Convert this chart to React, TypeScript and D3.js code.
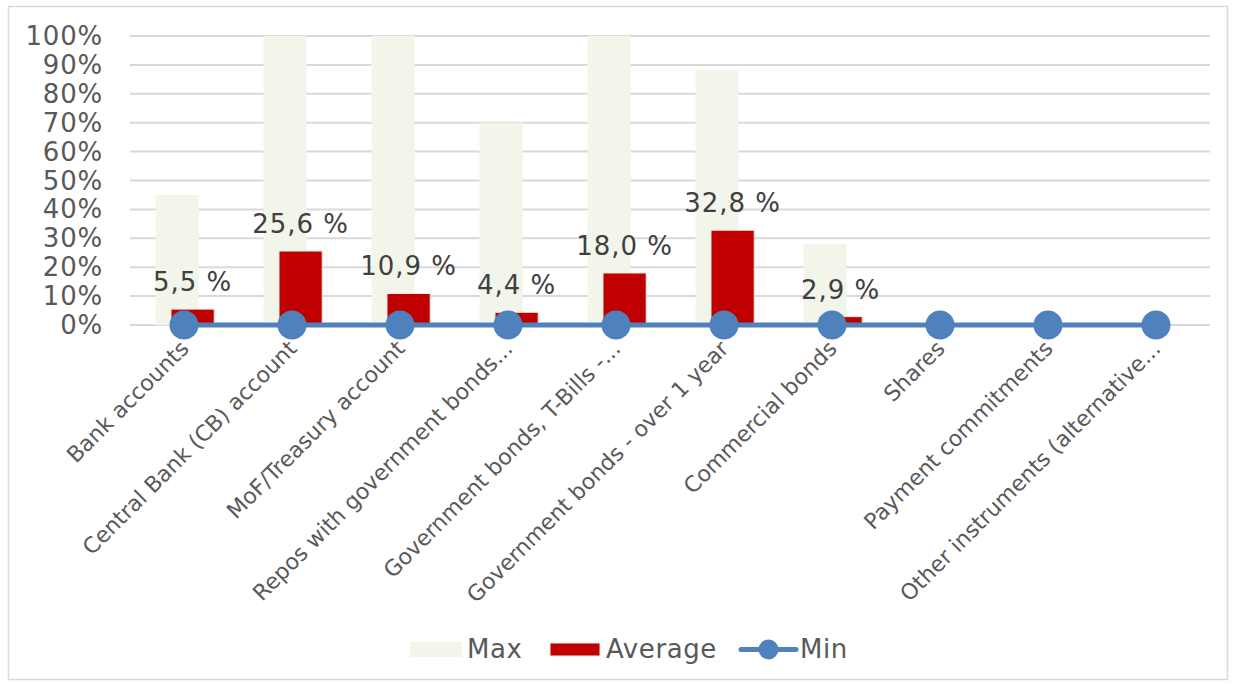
import React from "react";
import * as d3 from "d3";

const categories = [
  "Bank accounts",
  "Central Bank (CB) account",
  "MoF/Treasury account",
  "Repos with government bonds...",
  "Government bonds, T-Bills -...",
  "Government bonds - over 1 year",
  "Commercial bonds",
  "Shares",
  "Payment commitments",
  "Other instruments (alternative...",
];
const maxValues = [45, 100, 100, 70, 100, 88, 28, 0, 0, 0];
const avgValues = [5.5, 25.6, 10.9, 4.4, 18.0, 32.8, 2.9, 0, 0, 0];
const minValues = [0, 0, 0, 0, 0, 0, 0, 0, 0, 0];
const yTicks = [0, 10, 20, 30, 40, 50, 60, 70, 80, 90, 100];

const W = 1237;
const H = 684;
const FONT = "'DejaVu Sans', Verdana, sans-serif";

export default function App() {
  const x = d3.scaleBand<string>().domain(categories).range([130, 1210]).padding(0);
  const y = d3.scaleLinear().domain([0, 100]).range([325, 36]);
  const bw = x.bandwidth();
  const barW = bw * 0.4;
  const c = (d: string) => (x(d) as number) + bw / 2;
  const line = d3
    .line<number>()
    .x((_, i) => c(categories[i]))
    .y((d) => y(d));
  const fmt = (v: number) => v.toFixed(1).replace(".", ",") + " %";

  return (
    <svg width={W} height={H} style={{ position: "absolute", left: 0, top: 0, background: "#fff" }}>
      <rect x={8.5} y={6.5} width={1219} height={673} fill="#fff" stroke="#D9D9D9" strokeWidth={1.5} />
      {yTicks.map((t) => (
        <g key={t}>
          <line x1={130} x2={1210} y1={y(t)} y2={y(t)} stroke="#D9D9D9" strokeWidth={2} />
          <text x={103} y={y(t) + 9} textAnchor="end" fontFamily={FONT} fontSize={26} letterSpacing={0.8} fill="#595959">
            {t}%
          </text>
        </g>
      ))}
      {categories.map((d, i) => (
        <rect
          key={"max" + i}
          x={c(d) - 28.5}
          width={barW}
          y={y(maxValues[i])}
          height={y(0) - y(maxValues[i])}
          fill="#F2F5EA"
        />
      ))}
      {categories.map((d, i) =>
        avgValues[i] > 0 ? (
          <rect
            key={"avg" + i}
            x={c(d) - 13}
            width={barW}
            y={y(avgValues[i])}
            height={y(0) - y(avgValues[i])}
            fill="#C00000"
            stroke="#EEECE1"
            strokeWidth={1}
          />
        ) : null
      )}
      {categories.map((d, i) =>
        avgValues[i] > 0 ? (
          <text
            key={"lab" + i}
            x={c(d) - 13 + barW / 2}
            y={y(avgValues[i]) - 18}
            textAnchor="middle"
            fontFamily={FONT}
            fontSize={26}
            letterSpacing={1}
            fill="#404040"
          >
            {fmt(avgValues[i])}
          </text>
        ) : null
      )}
      <path d={line(minValues) as string} fill="none" stroke="#4F81BD" strokeWidth={5} />
      {categories.map((d, i) => (
        <circle key={"min" + i} cx={c(d)} cy={y(minValues[i])} r={14.5} fill="#4F81BD" />
      ))}
      {categories.map((d) => (
        <text
          key={"cat" + d}
          transform={`translate(${c(d) + 6},${y(0) + 25}) rotate(-45)`}
          textAnchor="end"
          fontFamily={FONT}
          fontSize={22}
          fill="#595959"
        >
          {d}
        </text>
      ))}
      <g fontFamily={FONT} fontSize={26} fill="#595959" letterSpacing={0.6}>
        <rect x={410} y={642} width={52} height={15} fill="#F2F5EA" />
        <text x={467} y={658}>Max</text>
        <rect x={550} y={643} width={50} height={13} fill="#C00000" stroke="#EEECE1" strokeWidth={1} />
        <text x={606} y={658}>Average</text>
        <line x1={741} x2={796} y1={649.5} y2={649.5} stroke="#4F81BD" strokeWidth={5} strokeLinecap="round" />
        <circle cx={768.5} cy={649.5} r={10} fill="#4F81BD" />
        <text x={800} y={658}>Min</text>
      </g>
    </svg>
  );
}
